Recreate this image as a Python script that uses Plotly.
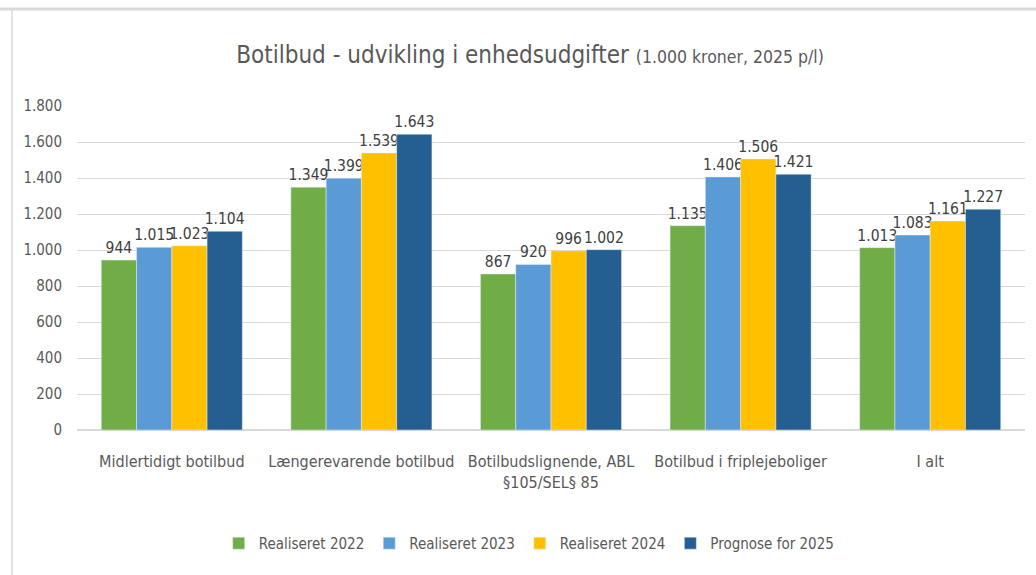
import plotly.graph_objects as go

categories = [
    "Midlertidigt botilbud",
    "Længerevarende botilbud",
    "Botilbudslignende, ABL<br>§105/SEL§ 85",
    "Botilbud i friplejeboliger",
    "I alt",
]
series_names = ["Realiseret 2022", "Realiseret 2023", "Realiseret 2024", "Prognose for 2025"]
real_2022 = [944, 1349, 867, 1135, 1013]
real_2023 = [1015, 1399, 920, 1406, 1083]
real_2024 = [1023, 1539, 996, 1506, 1161]
prog_2025 = [1104, 1643, 1002, 1421, 1227]
y_ticks = [0, 200, 400, 600, 800, 1000, 1200, 1400, 1600, 1800]

colors = ["#70AD47", "#5B9BD5", "#FFC000", "#255E91"]
font = "DejaVu Sans Condensed, Liberation Sans Narrow, sans-serif"

fig = go.Figure()
for name, vals, col in zip(series_names, [real_2022, real_2023, real_2024, prog_2025], colors):
    fig.add_trace(go.Bar(
        x=categories, y=vals, name=name, marker_color=col,
        texttemplate="%{y:,}", textposition="outside", cliponaxis=False,
        textfont=dict(size=15.5, color="#404040", family=font),
    ))

fig.update_layout(
    width=1036, height=575,
    separators=",.",
    barmode="group", bargap=0.256, bargroupgap=0,
    uniformtext=dict(minsize=15.5, mode="show"),
    plot_bgcolor="white", paper_bgcolor="white",
    margin=dict(l=77, r=11, t=106, b=145),
    font=dict(family=font, color="#595959", size=15),
    title=dict(
        text="Botilbud - udvikling i enhedsudgifter <span style='font-size:17.5px'>(1.000 kroner, 2025 p/l)</span>",
        x=530 / 1036, xref="container", xanchor="center", y=0.905, yanchor="middle",
        font=dict(size=24, color="#595959", family=font),
    ),
    xaxis=dict(showline=False, ticks="", tickfont=dict(size=16, color="#595959"),
               ticklabelstandoff=20),
    yaxis=dict(range=[0, 1800], tickvals=y_ticks, tickformat=",", gridcolor="#D9D9D9",
               zeroline=True, zerolinecolor="#D9D9D9", showline=False,
               tickfont=dict(size=15, color="#595959"), ticklabelstandoff=14),
    legend=dict(orientation="h", x=0.477, xanchor="center", y=-0.35, yanchor="middle",
                font=dict(size=15, color="#595959"), itemwidth=30),
    showlegend=True,
)

# chart frame: top and left border lines
fig.add_shape(type="line", xref="paper", yref="paper",
              x0=-80 / 948, x1=1.2, y0=(430 - 9) / 324, y1=(430 - 9) / 324,
              line=dict(color="#D9D9D9", width=3), layer="below")
fig.add_shape(type="line", xref="paper", yref="paper",
              x0=-65 / 948, x1=-65 / 948, y0=-150 / 324, y1=(430 - 9) / 324,
              line=dict(color="#D9D9D9", width=1.5), layer="below")

fig.write_html("out.html", config={"displayModeBar": False},
               post_script="document.body.style.margin='0';")
